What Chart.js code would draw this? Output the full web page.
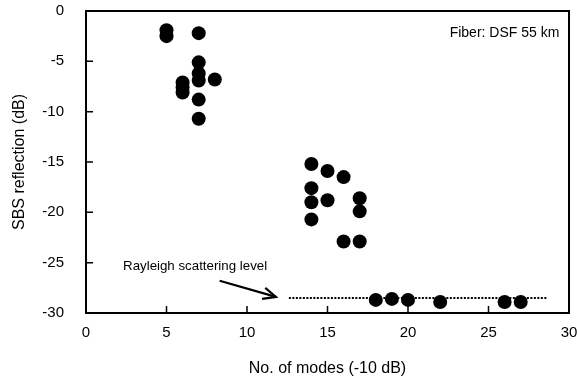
<!DOCTYPE html>
<html>
<head>
<meta charset="utf-8">
<script src="https://cdn.jsdelivr.net/npm/chart.js@4/dist/chart.umd.min.js"></script>
<style>
html,body{margin:0;padding:0;background:#fff}
#wrap{width:577px;height:383px;position:relative}
</style>
</head>
<body>
<div id="wrap"><canvas id="c" width="577" height="383"></canvas></div>
<script>
// data
const modes=[5,5,6,6,6,7,7,7,7,7,7,8, 14,14,14,14,15,15,16,16,17,17,17, 18,19,20,22,26,27];
const sbs=[-1.9,-2.5,-7.1,-7.6,-8.1,-2.2,-5.1,-6.2,-6.9,-8.8,-10.7,-6.8,
  -15.2,-17.6,-19.0,-20.7,-15.9,-18.8,-16.5,-22.9,-18.6,-19.9,-22.9,
  -28.7,-28.6,-28.7,-28.9,-28.9,-28.9];
const rayX=[12.6,28.6];
const rayY=[-28.5,-28.5];
const arrowFrom=[8.3,-26.8];
const arrowTo=[11.8,-28.4];
const rayLabel='Rayleigh scattering level';
const rayLabelAt=[2.3,-25.4];
const fiberLabel='Fiber: DSF 55 km';
const fiberLabelAt=[29.4,-2.2];
const xTicks=[0,5,10,15,20,25,30];
const yTicks=[0,-5,-10,-15,-20,-25,-30];

const FONT='"Liberation Sans", Arial, sans-serif';

// 內向刻度 + 外框 + 註解
const deco={
  id:'deco',
  afterDatasetsDraw(chart){
    const {ctx,chartArea:a,scales:{x,y}}=chart;
    ctx.save();
    ctx.strokeStyle='#000';ctx.lineWidth=2;
    ctx.strokeRect(a.left,a.top,a.right-a.left,a.bottom-a.top);
    ctx.lineWidth=1.5;
    ctx.beginPath();
    xTicks.forEach(v=>{const px=x.getPixelForValue(v);ctx.moveTo(px,a.bottom);ctx.lineTo(px,a.bottom-7);});
    yTicks.forEach(v=>{const py=y.getPixelForValue(v);ctx.moveTo(a.left,py);ctx.lineTo(a.left+7,py);});
    ctx.stroke();

    // arrow
    const x0=x.getPixelForValue(arrowFrom[0]),y0=y.getPixelForValue(arrowFrom[1]);
    const x1=x.getPixelForValue(arrowTo[0]),y1=y.getPixelForValue(arrowTo[1]);
    const ang=Math.atan2(y1-y0,x1-x0);
    ctx.lineWidth=2.2;
    ctx.beginPath();ctx.moveTo(x0,y0);ctx.lineTo(x1,y1);ctx.stroke();
    ctx.beginPath();
    ctx.moveTo(x1-14*Math.cos(ang-0.42),y1-14*Math.sin(ang-0.42));
    ctx.lineTo(x1,y1);
    ctx.lineTo(x1-14*Math.cos(ang+0.42),y1-14*Math.sin(ang+0.42));
    ctx.stroke();

    ctx.fillStyle='#000';
    ctx.textBaseline='middle';
    ctx.textAlign='left';
    ctx.font='13.3px '+FONT;
    ctx.fillText(rayLabel,x.getPixelForValue(rayLabelAt[0]),y.getPixelForValue(rayLabelAt[1]));
    ctx.textAlign='right';
    ctx.font='14px '+FONT;
    ctx.fillText(fiberLabel,x.getPixelForValue(fiberLabelAt[0]),y.getPixelForValue(fiberLabelAt[1]));
    ctx.restore();
  }
};

new Chart(document.getElementById('c'),{
  type:'scatter',
  data:{datasets:[
    {data:modes.map((m,i)=>({x:m,y:sbs[i]})),pointRadius:7,pointHoverRadius:7,
     backgroundColor:'#000',borderColor:'#000',borderWidth:0,order:1},
    {type:'line',data:rayX.map((v,i)=>({x:v,y:rayY[i]})),borderColor:'#000',borderWidth:2,
     borderDash:[2,1.5],pointRadius:0,fill:false,order:2}
  ]},
  options:{
    responsive:false,animation:false,
    layout:{padding:{top:11,right:8,left:0,bottom:0}},
    plugins:{legend:{display:false},tooltip:{enabled:false}},
    scales:{
      x:{type:'linear',min:0,max:30,
        afterFit(s){s.height=70;s.paddingLeft=0;s.paddingRight=0;},
        afterBuildTicks(s){s.ticks=xTicks.map(v=>({value:v}));},
        grid:{display:false},border:{display:false},
        ticks:{color:'#000',font:{family:FONT,size:15},padding:3,maxRotation:0},
        title:{display:true,text:'No. of modes (-10 dB)',color:'#000',font:{family:FONT,size:16},padding:{top:0,bottom:5}}
      },
      y:{type:'linear',min:-30,max:0,
        afterFit(s){s.width=86;s.paddingTop=0;s.paddingBottom=0;},
        afterBuildTicks(s){s.ticks=yTicks.map(v=>({value:v}));},
        grid:{display:false},border:{display:false},
        ticks:{color:'#000',font:{family:FONT,size:15},padding:14},
        title:{display:true,text:'SBS reflection (dB)',color:'#000',font:{family:FONT,size:16},padding:{top:10,bottom:0}}
      }
    }
  },
  plugins:[deco]
});
</script>
</body>
</html>
